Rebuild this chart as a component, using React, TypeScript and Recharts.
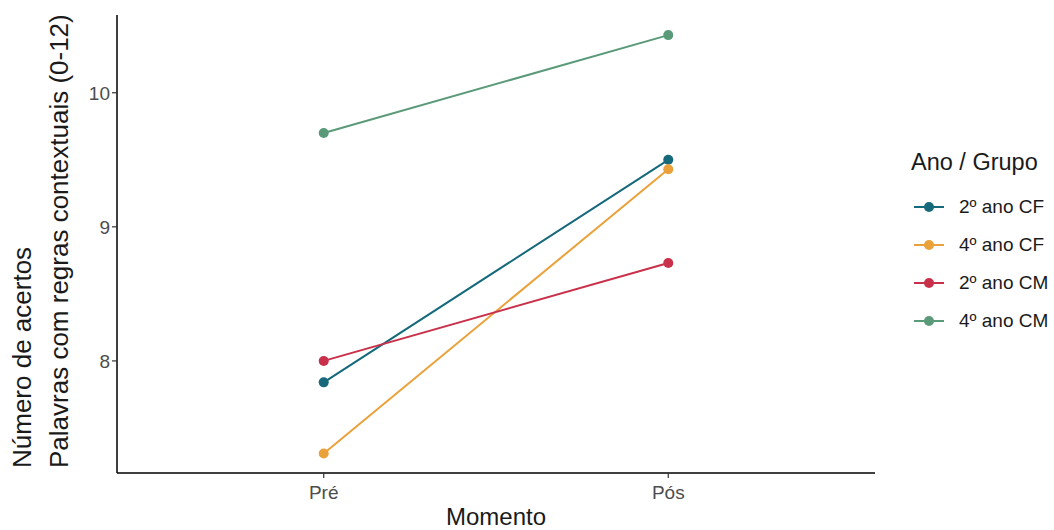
import { LineChart, Line, XAxis, YAxis } from "recharts";

const moments = ["Pré", "Pós"];
const cf2 = [7.84, 9.5];
const cf4 = [7.31, 9.43];
const cm2 = [8.0, 8.73];
const cm4 = [9.7, 10.43];
const yTicks = [8, 9, 10];

const series = [
  { key: "cf2", name: "2º ano CF", color: "#16697a", values: cf2 },
  { key: "cf4", name: "4º ano CF", color: "#eaa13a", values: cf4 },
  { key: "cm2", name: "2º ano CM", color: "#c9304a", values: cm2 },
  { key: "cm4", name: "4º ano CM", color: "#5a9a78", values: cm4 },
];

const data = moments.map((m, i) => {
  const row: Record<string, number | string> = { x: i + 1, label: m };
  series.forEach((s) => (row[s.key] = s.values[i]));
  return row;
});

const FONT = "'Liberation Sans', Arial, sans-serif";

function YLabel() {
  return (
    <g fontFamily={FONT} fontSize={26} fill="#1a1a1a">
      <text x={31} y={468} transform="rotate(-90, 31, 468)" textAnchor="start">
        Número de acertos
      </text>
      <text x={68} y={468} transform="rotate(-90, 68, 468)" textAnchor="start">
        Palavras com regras contextuais (0-12)
      </text>
    </g>
  );
}

function XLabel(props: any) {
  const vb = props.viewBox || { x: 117, width: 758 };
  return (
    <text x={vb.x + vb.width / 2} y={525} textAnchor="middle" fontFamily={FONT} fontSize={24} fill="#1a1a1a">
      Momento
    </text>
  );
}

function LegendBox() {
  return (
    <div
      style={{
        position: "absolute",
        left: 911,
        top: 147,
        fontFamily: FONT,
        color: "#1a1a1a",
      }}
    >
      <div style={{ fontSize: 23.5, marginBottom: 11, lineHeight: "30px" }}>Ano / Grupo</div>
      {series.map((s) => (
        <div key={s.key} style={{ display: "flex", alignItems: "center", height: 38 }}>
          <svg width={36} height={14} style={{ marginRight: 12 }}>
            <line x1={3} y1={7} x2={33} y2={7} stroke={s.color} strokeWidth={2} />
            <circle cx={18} cy={7} r={5} fill={s.color} />
          </svg>
          <span style={{ fontSize: 19 }}>{s.name}</span>
        </div>
      ))}
    </div>
  );
}

export default function App() {
  return (
    <div style={{ position: "absolute", left: 0, top: 0, width: 1054, height: 530, background: "#fff" }}>
      <LineChart width={1054} height={530} data={data} margin={{ top: 15, right: 179, bottom: 0, left: 0 }}>
        <XAxis
          dataKey="x"
          type="number"
          domain={[0.4, 2.6]}
          ticks={[1, 2]}
          tickFormatter={(v: number) => moments[v - 1]}
          height={57}
          stroke="#000"
          strokeWidth={1.5}
          tickSize={5}
          tickMargin={8}
          tick={{ fill: "#4d4d4d", fontSize: 19, fontFamily: FONT }}
          tickLine={{ stroke: "#333", strokeWidth: 1.2 }}
          label={{ content: (p: any) => <XLabel {...p} /> }}
        />
        <YAxis
          type="number"
          domain={[7.164, 10.58]}
          ticks={yTicks}
          allowDataOverflow
          width={117}
          stroke="#000"
          strokeWidth={1.5}
          tickSize={5}
          tick={{ fill: "#4d4d4d", fontSize: 19, fontFamily: FONT }}
          tickLine={{ stroke: "#333", strokeWidth: 1.2 }}
          label={{ content: () => <YLabel /> }}
        />
        {series.map((s) => (
          <Line
            key={s.key}
            dataKey={s.key}
            name={s.name}
            type="linear"
            stroke={s.color}
            strokeWidth={2}
            dot={{ r: 5, fill: s.color, stroke: "none" }}
            isAnimationActive={false}
          />
        ))}
      </LineChart>
      <LegendBox />
    </div>
  );
}
